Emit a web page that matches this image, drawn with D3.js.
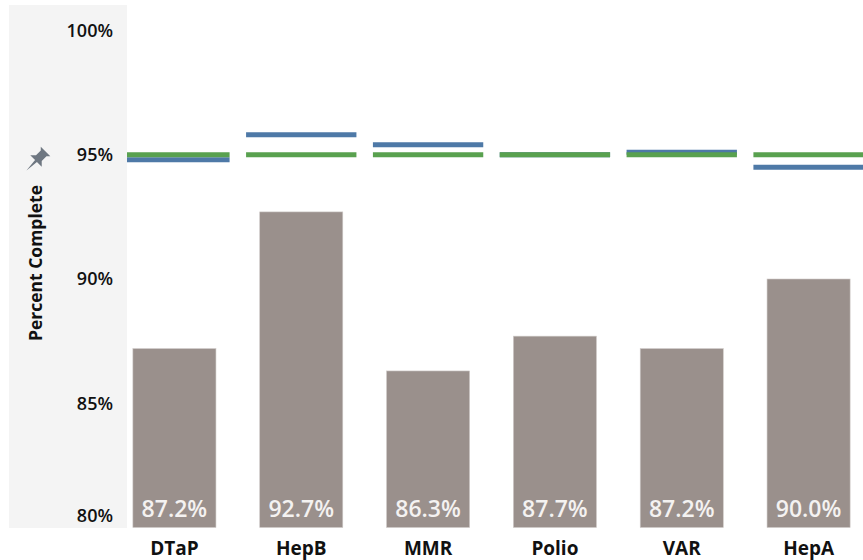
<!DOCTYPE html>
<html>
<head>
<meta charset="utf-8">
<script src="https://cdn.jsdelivr.net/npm/d3@7"></script>
<style>
  html, body { margin: 0; padding: 0; background: #ffffff; }
  svg { display: block; }
</style>
</head>
<body>
<svg id="chart" width="863" height="560"></svg>
<script>
// ---- data ----
const categories = ["DTaP", "HepB", "MMR", "Polio", "VAR", "HepA"];
const completeValues = [87.2, 92.7, 86.3, 87.7, 87.2, 90.0];
const comparisonValues = [94.8, 95.8, 95.4, 95.0, 95.1, 94.5];
const targetValues = [95, 95, 95, 95, 95, 95];
const yTicks = [80, 85, 90, 95, 100];
const yTitle = "Percent Complete";

// ---- layout ----
const W = 863, H = 560;
const panel = { x: 9, y: 5, w: 118, h: 523 };
const plotLeft = 127, plotRight = 863;

const svg = d3.select("#chart");

const y = d3.scaleLinear().domain([80, 100]).range([527.5, 30.5]);
const x = d3.scaleBand().domain(categories).range([111, 872]).padding(0);
const bw = x.bandwidth();
const barW = bw * 0.655;
const lineW = bw * 0.87;

// grey axis panel
svg.append("rect")
  .attr("x", panel.x).attr("y", panel.y)
  .attr("width", panel.w).attr("height", panel.h)
  .attr("fill", "#f4f4f4");

// clip plot area
svg.append("defs").append("clipPath").attr("id", "plotClip")
  .append("rect").attr("x", plotLeft).attr("y", 0)
  .attr("width", plotRight - plotLeft).attr("height", H);

const plot = svg.append("g").attr("clip-path", "url(#plotClip)");

// bars
plot.selectAll("rect.bar")
  .data(categories)
  .join("rect")
  .attr("class", "bar")
  .attr("x", d => x(d) + (bw - barW) / 2)
  .attr("width", barW)
  .attr("y", (d, i) => y(completeValues[i]))
  .attr("height", (d, i) => y(80) - y(completeValues[i]))
  .attr("fill", "#9a908c")
  .attr("stroke", "#cfcac8")
  .attr("stroke-width", 0.6);

// comparison (blue) lines
plot.selectAll("line.comp")
  .data(categories)
  .join("line")
  .attr("class", "comp")
  .attr("x1", d => x(d) + (bw - lineW) / 2)
  .attr("x2", d => x(d) + (bw + lineW) / 2)
  .attr("y1", (d, i) => y(comparisonValues[i]))
  .attr("y2", (d, i) => y(comparisonValues[i]))
  .attr("stroke", "#4e79a7")
  .attr("stroke-width", 5);

// target (green) lines
plot.selectAll("line.target")
  .data(categories)
  .join("line")
  .attr("class", "target")
  .attr("x1", d => x(d) + (bw - lineW) / 2)
  .attr("x2", d => x(d) + (bw + lineW) / 2)
  .attr("y1", (d, i) => y(targetValues[i]))
  .attr("y2", (d, i) => y(targetValues[i]))
  .attr("stroke", "#59a14f")
  .attr("stroke-width", 5);

// bar value labels
plot.selectAll("text.val")
  .data(categories)
  .join("text")
  .attr("class", "val")
  .attr("x", d => x(d) + bw / 2)
  .attr("y", 517)
  .attr("text-anchor", "middle")
  .attr("font-family", "'Open Sans', sans-serif")
  .attr("font-weight", 600)
  .attr("font-size", 23)
  .attr("fill", "#f4f2f1")
  .text((d, i) => completeValues[i].toFixed(1) + "%");

// category labels
svg.selectAll("text.cat")
  .data(categories)
  .join("text")
  .attr("class", "cat")
  .attr("x", d => x(d) + bw / 2)
  .attr("y", 555)
  .attr("text-anchor", "middle")
  .attr("font-family", "'Open Sans', sans-serif")
  .attr("font-weight", "bold")
  .attr("font-size", 19)
  .attr("fill", "#111")
  .text(d => d);

// y tick labels
svg.selectAll("text.ytick")
  .data(yTicks)
  .join("text")
  .attr("class", "ytick")
  .attr("x", 113)
  .attr("y", d => Math.min(y(d), 516))
  .attr("dy", "0.35em")
  .attr("text-anchor", "end")
  .attr("font-family", "'Open Sans', sans-serif")
  .attr("font-weight", 600)
  .attr("font-size", 18)
  .attr("fill", "#111")
  .text(d => d + "%");

// y axis title
svg.append("text")
  .attr("transform", "translate(42,263) rotate(-90)")
  .attr("text-anchor", "middle")
  .attr("font-family", "'Open Sans', sans-serif")
  .attr("font-weight", "bold")
  .attr("font-size", 17.5)
  .attr("fill", "#111")
  .text(yTitle);

// pin icon
svg.append("path")
  .attr("transform", "translate(36,161) rotate(45) scale(1.35)")
  .attr("d", "M -5,-10 L 5,-10 L 3,-8 L 3,-3 L 6,0 L 1,0 L 0,10 L -1,0 L -6,0 L -3,-3 L -3,-8 Z")
  .attr("fill", "#6e7781");
</script>
</body>
</html>
